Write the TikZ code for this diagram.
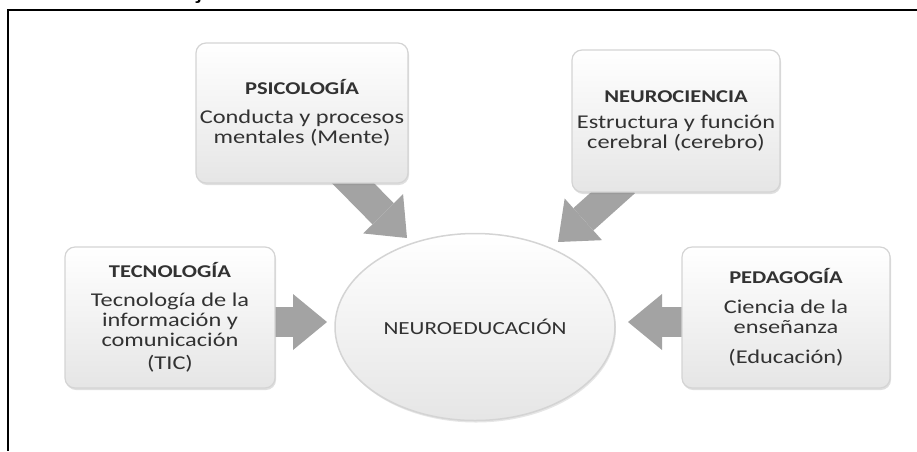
\documentclass[tikz,border=0pt]{standalone}
\usepackage{fontspec}
\setmainfont{Carlito}[FakeStretch=1.25]
\newfontfamily\topfont{Liberation Sans}[FakeStretch=1.15]
\usetikzlibrary{arrows.meta,shadows,shapes.geometric}
\definecolor{arrowgray}{RGB}{163,163,163}
\definecolor{txt}{RGB}{50,50,50}
\definecolor{boxline}{RGB}{212,212,212}
\tikzset{
  infobox/.style={draw=boxline, line width=1.2pt, rounded corners=10pt,
    top color=white, bottom color=black!10, text=txt, align=center,
    font=\fontsize{19.5}{20}\selectfont,
    drop shadow={opacity=0.25, shadow xshift=1pt, shadow yshift=-2pt},
    inner sep=0pt},
  bigarrow/.style={draw=arrowgray, line width=30pt,
    -{Triangle[width=56pt,length=34pt,line width=0pt]}}
}
\newcommand{\boxtitle}[1]{{\fontsize{18}{20}\selectfont\bfseries #1}}
\begin{document}
\begin{tikzpicture}[x=1pt,y=-1pt]
\useasboundingbox (0,0) rectangle (917,451);
% partially visible heading (cut by the top edge, as in the reference)
\node[anchor=base east, font=\topfont\fontsize{24}{26}\selectfont, inner sep=0pt] (head) at (218,-2) {referencia de trabajo};
% frame
\draw[line width=2pt] (917,10) -- (8,10) -- (8,451);
% arrow tips and starts
\coordinate (tpsi) at (407,238);
\coordinate (tneu) at (558,242);
\coordinate (ttec) at (327,322);
\coordinate (tped) at (628,322);
\coordinate (spsi) at (340,170);
\coordinate (sneu) at (625,182);
\coordinate (stec) at (262,322);
\coordinate (sped) at (695,322);
% arrows first (behind boxes)
\draw[bigarrow] (spsi) -- (tpsi);
\draw[bigarrow] (sneu) -- (tneu);
\draw[bigarrow] (stec) -- (ttec);
\draw[bigarrow] (sped) -- (tped);
% boxes
\node[infobox, minimum width=212pt, minimum height=140pt] (psi) at (302,113)
  {\boxtitle{PSICOLOGÍA}\\[9pt]Conducta y procesos\\mentales (Mente)};
\node[infobox, minimum width=208pt, minimum height=142pt] (neu) at (676,121)
  {\boxtitle{NEUROCIENCIA}\\[6pt]Estructura y función\\cerebral (cerebro)};
\node[infobox, minimum width=210pt, minimum height=141pt] (tec) at (170,317.5)
  {\boxtitle{TECNOLOGÍA}\\[9pt]Tecnología de la\\información y\\comunicación\\[3pt](TIC)};
\node[infobox, minimum width=208pt, minimum height=141pt] (ped) at (786,317.5)
  {\boxtitle{PEDAGOGÍA}\\[10pt]Ciencia de la\\enseñanza\\[10pt](Educación)};
% central ellipse
\node[ellipse, draw=boxline, line width=1.5pt, top color=white, bottom color=black!10,
  minimum width=280pt, minimum height=187pt, text=txt,
  font=\fontsize{18.5}{20}\selectfont,
  drop shadow={opacity=0.2, shadow xshift=1pt, shadow yshift=-2pt}] (neuro) at (475,327)
  {NEUROEDUCACIÓN};
\end{tikzpicture}
\end{document}
